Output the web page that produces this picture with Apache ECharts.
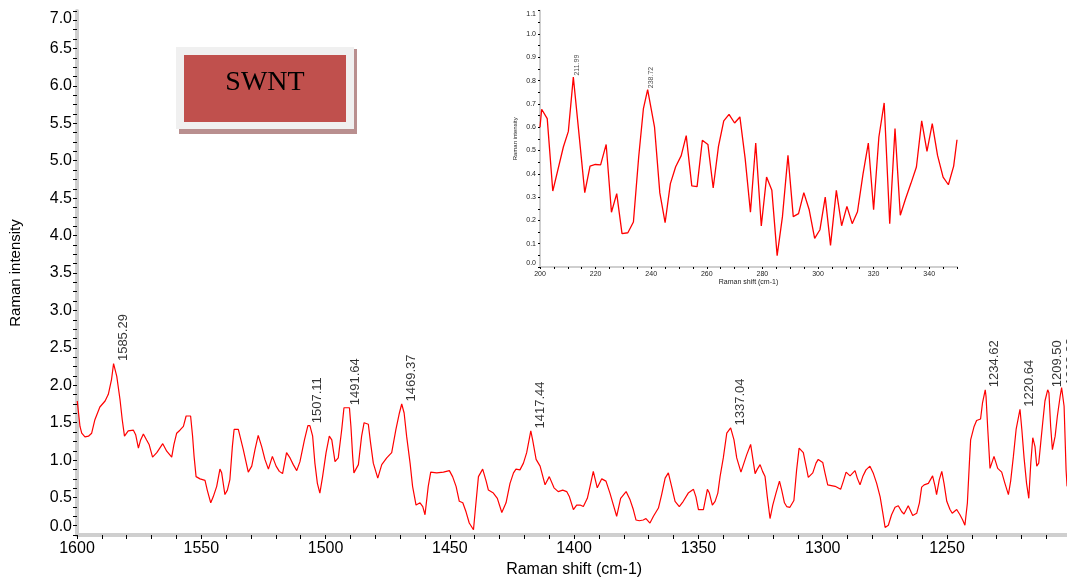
<!DOCTYPE html>
<html><head><meta charset="utf-8">
<script src="https://cdn.jsdelivr.net/npm/echarts@6/dist/echarts.min.js"></script>
<style>html,body{margin:0;padding:0;background:#fff}#c{width:1067px;height:577px}</style>
</head><body><div id="c"></div>
<script>
// ---------- main spectrum ----------
const mainShift = [1599.9,1598.8,1598.1,1596.8,1595.4,1594.1,1592.8,1590.8,1588.7,1587.4,1586.1,1585.29,1584.0,1582.7,1581.8,1580.9,1579.4,1577.3,1576.4,1575.3,1574.4,1573.3,1572.0,1571.0,1569.6,1567.9,1565.5,1563.9,1561.9,1561.0,1559.9,1558.6,1557.2,1556.1,1554.3,1553.5,1552.9,1552.1,1550.5,1548.5,1547.6,1546.2,1545.2,1543.8,1542.5,1541.8,1540.5,1539.5,1538.5,1537.5,1536.8,1535.1,1533.1,1531.1,1529.7,1528.4,1527.1,1525.7,1524.4,1523.0,1521.4,1519.9,1518.6,1517.3,1515.7,1514.3,1513.0,1511.6,1510.3,1508.5,1507.11,1506.3,1505.2,1504.3,1503.3,1502.3,1501.2,1499.8,1498.5,1497.5,1496.2,1494.9,1493.5,1492.6,1491.64,1490.4,1489.8,1489.1,1488.6,1486.8,1485.5,1484.5,1482.8,1481.9,1480.8,1479.0,1477.4,1475.4,1473.4,1471.7,1470.3,1469.37,1468.4,1467.4,1466.0,1465.0,1463.6,1462.0,1460.9,1460.0,1458.7,1457.7,1455.3,1452.6,1450.2,1448.9,1447.5,1446.2,1444.8,1443.5,1442.2,1440.5,1439.5,1438.5,1436.8,1435.4,1434.5,1432.5,1430.9,1429.1,1427.4,1425.8,1424.4,1423.4,1421.8,1420.4,1419.1,1417.44,1416.7,1415.3,1413.7,1411.7,1410.0,1408.1,1406.4,1404.6,1403.0,1401.9,1400.3,1399.0,1397.6,1396.3,1394.7,1393.6,1392.3,1390.7,1388.9,1387.2,1385.6,1384.2,1382.9,1381.3,1379.1,1377.5,1376.2,1375.1,1373.8,1372.2,1371.1,1369.5,1368.1,1366.1,1364.8,1363.4,1362.1,1360.8,1359.4,1357.7,1356.1,1354.1,1352.0,1351.0,1350.0,1348.0,1346.4,1345.6,1344.4,1343.3,1342.2,1341.3,1340.0,1338.6,1337.04,1335.7,1334.6,1332.9,1331.7,1330.6,1329.0,1327.2,1326.3,1325.2,1324.2,1323.2,1322.3,1321.2,1320.1,1318.8,1317.4,1316.5,1315.4,1314.5,1313.2,1311.6,1310.5,1309.5,1307.8,1306.7,1305.8,1304.0,1302.7,1301.8,1300.0,1299.1,1298.0,1295.0,1292.8,1291.7,1290.6,1289.0,1287.0,1286.1,1285.0,1283.9,1282.6,1281.0,1279.6,1278.3,1276.9,1275.9,1274.9,1273.6,1272.3,1270.9,1269.6,1268.2,1267.3,1265.6,1263.8,1262.2,1261.1,1260.2,1259.2,1257.5,1255.8,1254.8,1254.2,1253.1,1252.1,1251.2,1250.1,1248.8,1247.9,1246.1,1244.8,1243.7,1242.8,1241.8,1241.0,1240.5,1239.1,1238.1,1236.5,1235.7,1234.62,1234.3,1233.6,1232.7,1231.1,1229.6,1228.0,1226.7,1225.3,1224.4,1223.3,1222.2,1220.64,1219.9,1219.0,1218.0,1217.1,1216.3,1215.5,1214.6,1213.9,1213.1,1212.3,1211.5,1210.6,1209.50,1209.0,1208.3,1207.6,1206.5,1205.6,1204.5,1203.9,1202.9,1202.1,1201.7];
const mainIntensity = [1.79,1.45,1.36,1.31,1.32,1.36,1.54,1.71,1.79,1.88,2.08,2.29,2.12,1.81,1.54,1.32,1.39,1.40,1.34,1.16,1.27,1.35,1.27,1.21,1.04,1.10,1.22,1.12,1.04,1.21,1.36,1.40,1.45,1.59,1.59,1.32,1.05,0.78,0.75,0.73,0.60,0.43,0.51,0.65,0.88,0.83,0.54,0.60,0.74,1.18,1.41,1.41,1.14,0.84,0.92,1.14,1.33,1.18,1.01,0.88,1.05,0.92,0.85,0.82,1.10,1.03,0.94,0.86,0.98,1.27,1.46,1.46,1.32,0.96,0.69,0.56,0.78,1.10,1.32,1.27,0.98,1.03,1.41,1.70,1.70,1.70,1.45,1.05,0.83,0.94,1.32,1.50,1.48,1.23,0.96,0.76,0.94,1.03,1.10,1.41,1.63,1.75,1.63,1.32,0.96,0.65,0.40,0.43,0.38,0.27,0.65,0.84,0.83,0.84,0.86,0.78,0.65,0.45,0.43,0.31,0.16,0.07,0.43,0.78,0.88,0.72,0.60,0.56,0.49,0.30,0.43,0.69,0.83,0.88,0.87,0.96,1.10,1.39,1.27,1.01,0.92,0.67,0.78,0.63,0.58,0.60,0.58,0.51,0.34,0.40,0.40,0.38,0.49,0.65,0.85,0.63,0.75,0.72,0.56,0.40,0.25,0.49,0.58,0.47,0.34,0.20,0.19,0.20,0.22,0.16,0.25,0.36,0.54,0.76,0.83,0.65,0.45,0.38,0.45,0.56,0.61,0.51,0.34,0.34,0.61,0.56,0.40,0.45,0.56,0.78,1.03,1.36,1.43,1.27,1.03,0.84,0.96,1.07,1.21,0.82,0.88,0.94,0.85,0.78,0.51,0.22,0.40,0.56,0.72,0.60,0.43,0.38,0.37,0.46,0.87,1.16,1.10,0.92,0.77,0.83,0.96,1.01,0.97,0.83,0.67,0.65,0.61,0.72,0.84,0.79,0.86,0.76,0.67,0.78,0.87,0.92,0.82,0.69,0.51,0.31,0.10,0.13,0.27,0.37,0.39,0.31,0.28,0.39,0.26,0.29,0.43,0.64,0.67,0.69,0.79,0.65,0.54,0.74,0.85,0.69,0.45,0.34,0.29,0.34,0.27,0.20,0.13,0.43,0.96,1.27,1.45,1.53,1.55,1.77,1.94,1.85,1.41,0.89,1.05,0.89,0.84,0.69,0.54,0.72,1.05,1.41,1.68,1.41,1.03,0.69,0.49,0.96,1.30,1.18,0.92,0.96,1.23,1.50,1.79,1.94,1.90,1.45,1.14,1.32,1.59,1.85,1.97,1.72,0.87,0.65];
const mainPeakShift = [1585.29,1507.11,1491.64,1469.37,1417.44,1337.04,1234.62,1220.64,1209.50,1203.9];
const mainPeakIntensity = [2.29,1.46,1.70,1.75,1.39,1.43,1.94,1.68,1.94,1.97];
const mainPeakLabels = ['1585.29','1507.11','1491.64','1469.37','1417.44','1337.04','1234.62','1220.64','1209.50','1203.88'];
const mainXTicks = [1600,1550,1500,1450,1400,1350,1300,1250,1200];
const mainYTicks = [0,0.5,1,1.5,2,2.5,3,3.5,4,4.5,5,5.5,6,6.5,7];

// ---------- inset (RBM region) ----------
const insetShift = [200.0,200.6,202.6,204.6,208.4,210.2,211.99,214.2,216.1,218.0,219.9,221.8,223.8,225.7,227.6,229.5,231.6,233.6,235.5,237.2,238.72,241.2,243.1,245.0,246.9,248.8,250.8,252.6,254.6,256.5,258.4,260.4,262.3,264.2,266.1,268.0,270.0,271.9,273.8,275.7,277.6,279.6,281.5,283.4,285.3,287.2,289.2,291.1,293.0,294.9,296.8,298.8,300.7,302.6,304.5,306.6,308.5,310.4,312.3,314.2,316.2,318.1,320.0,321.9,323.8,325.8,327.7,329.6,331.5,333.4,335.4,337.3,339.2,341.1,343.0,345.0,346.9,348.8,350.0];
const insetIntensity = [0.60,0.677,0.637,0.326,0.515,0.582,0.815,0.55,0.319,0.433,0.44,0.438,0.526,0.235,0.315,0.143,0.147,0.193,0.472,0.68,0.761,0.60,0.318,0.19,0.358,0.43,0.478,0.564,0.348,0.345,0.544,0.526,0.339,0.518,0.627,0.655,0.618,0.644,0.465,0.235,0.532,0.176,0.386,0.329,0.049,0.215,0.479,0.216,0.229,0.319,0.247,0.123,0.16,0.30,0.093,0.329,0.177,0.26,0.186,0.237,0.40,0.532,0.246,0.558,0.704,0.186,0.594,0.222,0.293,0.358,0.429,0.627,0.496,0.615,0.479,0.386,0.353,0.433,0.546];
const insetPeakShift = [211.99,238.72];
const insetPeakIntensity = [0.815,0.761];
const insetPeakLabels = ['211.99','238.72'];
const insetXTicks = [200,220,240,260,280,300,320,340];
const insetYTicks = [0,0.1,0.2,0.3,0.4,0.5,0.6,0.7,0.8,0.9,1.0,1.1];

const FONT = "'Liberation Sans', Arial, sans-serif";
const chart = echarts.init(document.getElementById('c'), null, {renderer:'canvas'});

function axisCommon(bandW, tickLen, minorLen, split){
  return {
    axisLine:{show:true, lineStyle:{color:'#cfcfcf', width:bandW}},
    axisTick:{show:true, length:tickLen, lineStyle:{color:'#000', width:1}},
    minorTick:{show:true, splitNumber:split, length:minorLen, lineStyle:{color:'#000', width:1}},
    splitLine:{show:false}, minorSplitLine:{show:false}
  };
}

const option = {
  animation:false,
  backgroundColor:'#fff',
  grid:[
    {left:77, top:11, width:994.3, height:524, containLabel:false, outerBoundsMode:'none'},
    {left:540, top:10.7, width:417, height:256.3, containLabel:false, outerBoundsMode:'none'}
  ],
  xAxis:[
    Object.assign({
      type:'value', gridIndex:0, inverse:true,
      min:Math.min(...mainXTicks), max:Math.max(...mainXTicks), interval:50,
      name:'Raman shift (cm-1)', nameLocation:'middle', nameGap:24,
      nameTextStyle:{fontFamily:FONT, fontSize:16, color:'#000'},
      axisLabel:{fontFamily:FONT, fontSize:16, color:'#000', margin:6,
        formatter:v => (v===1200 ? '' : String(v))}
    }, axisCommon(4,4,4,5)),
    Object.assign({
      type:'value', gridIndex:1,
      min:Math.min(...insetXTicks), max:350, interval:20,
      name:'Raman shift (cm-1)', nameLocation:'middle', nameGap:12,
      nameTextStyle:{fontFamily:FONT, fontSize:7, color:'#222'},
      axisLabel:{fontFamily:FONT, fontSize:7, color:'#222', margin:4, showMaxLabel:false}
    }, axisCommon(2,2,2,4))
  ],
  yAxis:[
    Object.assign({
      type:'value', gridIndex:0,
      min:Math.min(...mainYTicks), max:Math.max(...mainYTicks), interval:0.5,
      name:'Raman intensity', nameLocation:'middle', nameGap:54,
      nameTextStyle:{fontFamily:FONT, fontSize:15, color:'#000'},
      axisLabel:{fontFamily:FONT, fontSize:16, color:'#000', margin:5,
        formatter:v => v.toFixed(1),
        verticalAlignMinLabel:'bottom', verticalAlignMaxLabel:'top'}
    }, axisCommon(4,4,4,4)),
    Object.assign({
      type:'value', gridIndex:1,
      min:Math.min(...insetYTicks), max:Math.max(...insetYTicks), interval:0.1,
      name:'Raman intensity', nameLocation:'middle', nameGap:22,
      nameTextStyle:{fontFamily:FONT, fontSize:6, color:'#222'},
      axisLabel:{fontFamily:FONT, fontSize:7, color:'#222', margin:4,
        formatter:v => v.toFixed(1),
        verticalAlignMinLabel:'bottom', verticalAlignMaxLabel:'top'}
    }, axisCommon(2,2,2,2))
  ],
  series:[
    {
      type:'line', xAxisIndex:0, yAxisIndex:0, showSymbol:false, symbol:'none',
      data:mainShift.map((x,i)=>[x, mainIntensity[i]]),
      lineStyle:{color:'#ff0000', width:1.2}, emphasis:{disabled:true}, z:3
    },
    {
      type:'scatter', xAxisIndex:0, yAxisIndex:0, symbolSize:1,
      itemStyle:{color:'rgba(0,0,0,0)'},
      data:mainPeakShift.map((x,i)=>[x, mainPeakIntensity[i], mainPeakLabels[i]]),
      label:{show:true, position:[10,-2], rotate:90, align:'left', verticalAlign:'middle',
        formatter:p=>p.value[2], color:'#000', fontFamily:FONT, fontSize:13},
      emphasis:{disabled:true}, z:4
    },
    {
      type:'line', xAxisIndex:1, yAxisIndex:1, showSymbol:false, symbol:'none',
      data:insetShift.map((x,i)=>[x, insetIntensity[i]]),
      lineStyle:{color:'#ff0000', width:1.3}, emphasis:{disabled:true}, z:5
    },
    {
      type:'scatter', xAxisIndex:1, yAxisIndex:1, symbolSize:1,
      itemStyle:{color:'rgba(0,0,0,0)'},
      data:insetPeakShift.map((x,i)=>[x, insetPeakIntensity[i], insetPeakLabels[i]]),
      label:{show:true, position:[4,-1], rotate:90, align:'left', verticalAlign:'middle',
        formatter:p=>p.value[2], color:'#222', fontFamily:FONT, fontSize:7},
      emphasis:{disabled:true}, z:6
    }
  ],
  graphic:[
    {type:'rect', shape:{x:179, y:49, width:178, height:85}, style:{fill:'#b98f8f'}, z:10},
    {type:'rect', shape:{x:176, y:47, width:178, height:82}, style:{fill:'#f0f0f0'}, z:11},
    {type:'rect', shape:{x:184, y:55, width:162, height:67}, style:{fill:'#c0504d'}, z:12},
    {type:'text', x:265, y:83, z:13, style:{text:'SWNT', fill:'#000',
      font:"28px 'Liberation Serif', 'Times New Roman', serif", align:'center', verticalAlign:'middle'}}
  ]
};
chart.setOption(option);
</script>
</body></html>
